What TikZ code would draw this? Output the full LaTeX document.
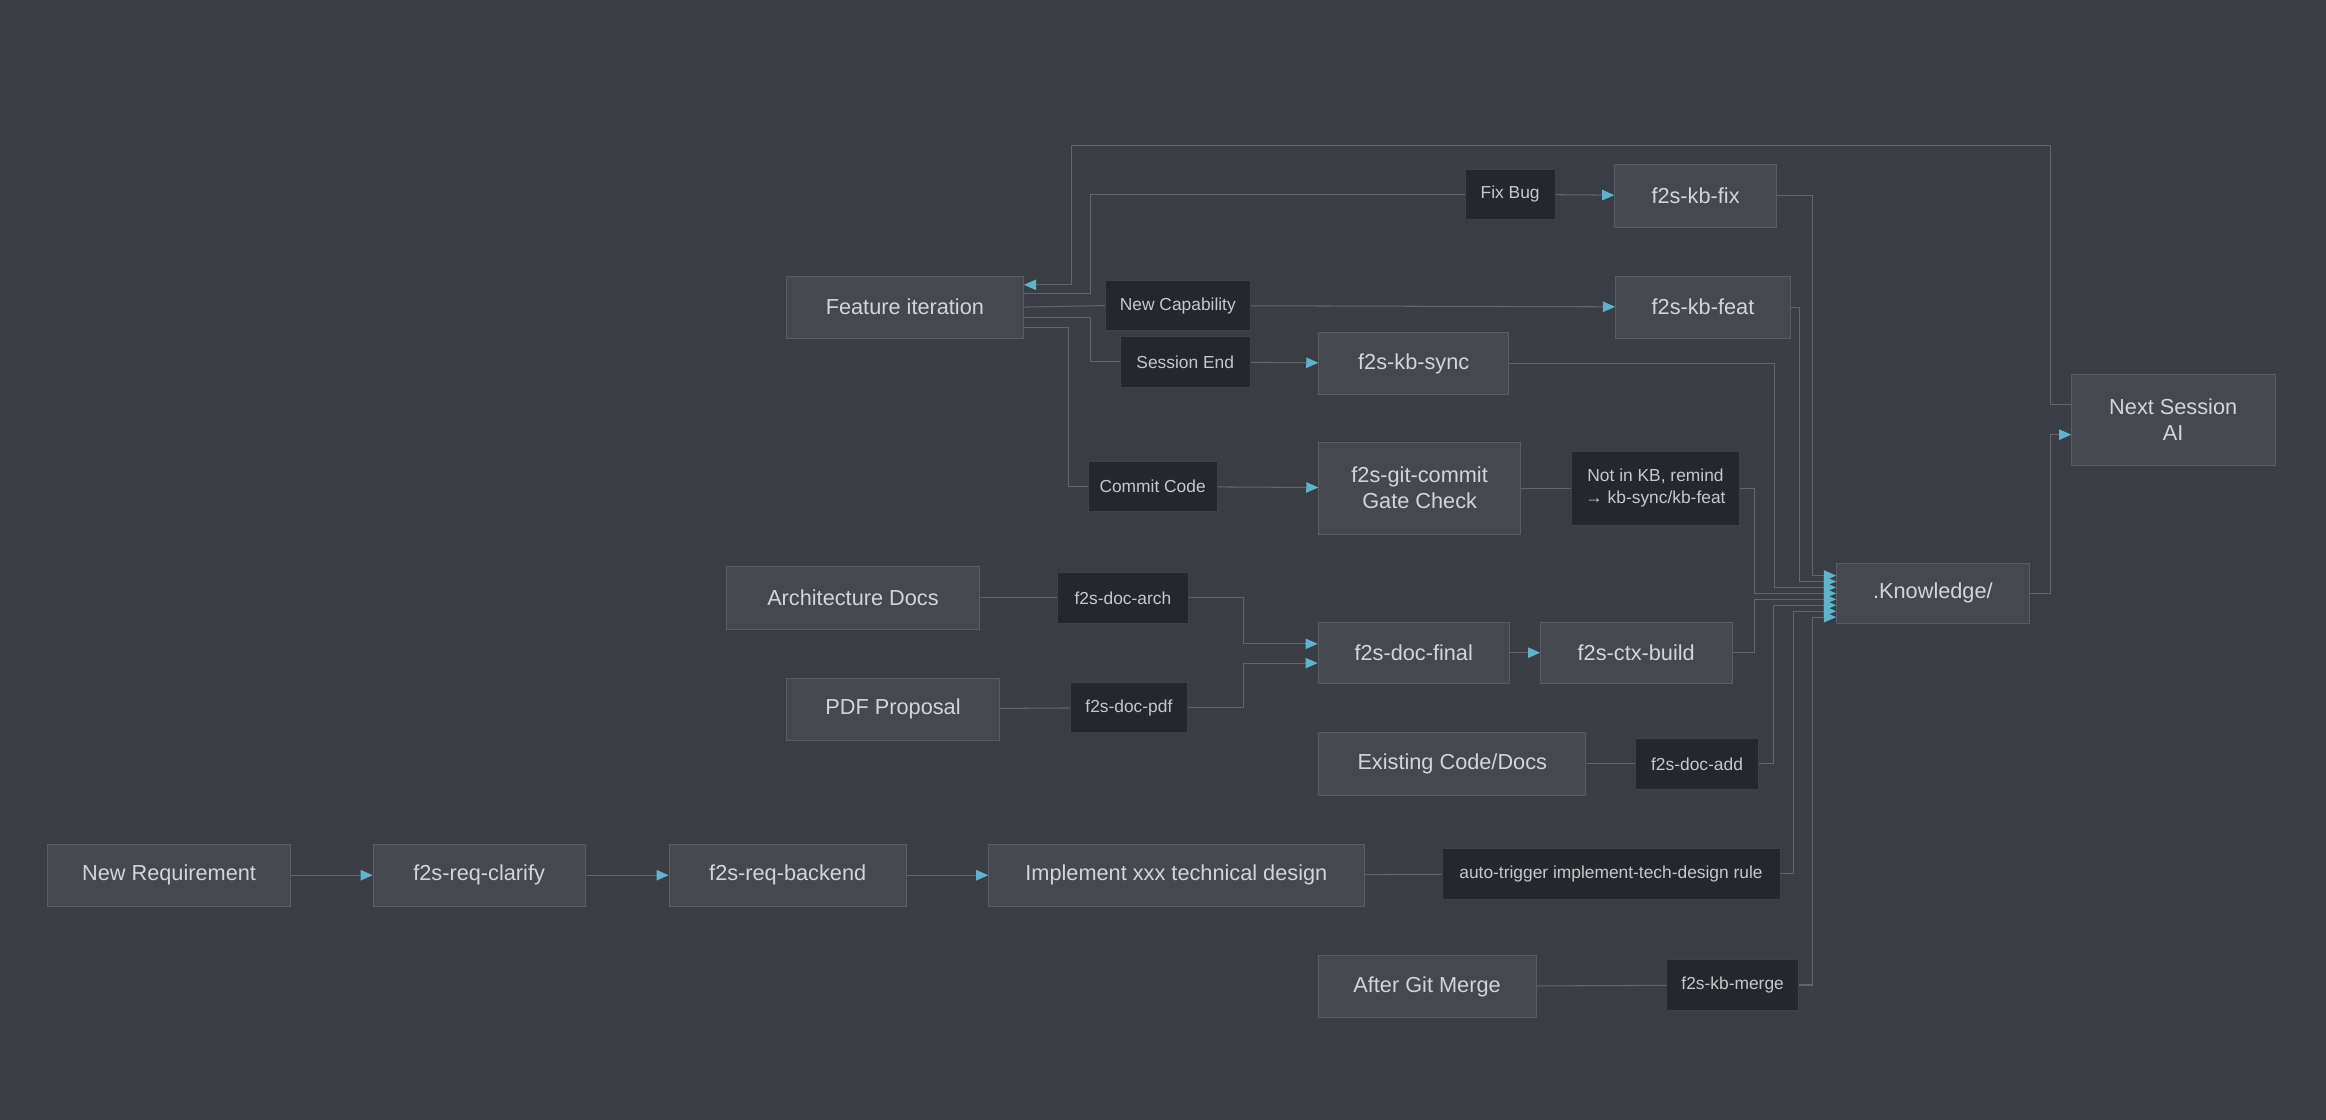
\documentclass[tikz,border=0pt]{standalone}
\usepackage{fontspec}
\setmainfont{Liberation Sans}
\usetikzlibrary{arrows.meta}
\definecolor{bg}{HTML}{3A3D44}
\definecolor{boxfill}{HTML}{45484F}
\definecolor{boxline}{HTML}{5A5D64}
\definecolor{tagfill}{HTML}{25272C}
\definecolor{txt}{HTML}{D4D5D8}
\definecolor{wire}{HTML}{62656B}
\definecolor{tip}{HTML}{5DB4CC}
\tikzset{
  stage/.style={draw=boxline, fill=boxfill, text=txt, align=center,
    font=\fontsize{12.5}{15}\selectfont, inner sep=0pt},
  tag/.style={draw=boxline!70!black, fill=tagfill, text=txt!85!gray, align=center,
    font=\fontsize{10}{13}\selectfont, inner sep=0pt, minimum height=1.02cm},
  line/.style={draw=wire, line width=0.6pt},
  flow/.style={line, -{Triangle[length=7pt, width=6pt, fill=tip, color=tip]}},
}
\begin{document}
\begin{tikzpicture}[x=0.03cm, y=-0.03cm]
\fill[bg] (0,0) rectangle (1568,755);
\useasboundingbox (0,0) rectangle (1568,755);
% boxes
\node[stage, minimum width=4.8cm, minimum height=1.26cm] (feat) at (610,207) {Feature iteration};
\node[tag, minimum width=1.83cm] (fixbug) at (1018,131) {Fix Bug};
\node[stage, minimum width=3.27cm, minimum height=1.26cm] (kbfix) at (1143,132) {f2s-kb-fix};
\node[tag, minimum width=2.94cm] (newcap) at (794,206) {New Capability};
\node[stage, minimum width=3.54cm, minimum height=1.26cm] (kbfeat) at (1148,207) {f2s-kb-feat};
\node[tag, minimum width=2.64cm] (sessend) at (799,244) {Session End};
\node[stage, minimum width=3.84cm, minimum height=1.26cm] (kbsync) at (953,245) {f2s-kb-sync};
\node[tag, minimum width=2.61cm] (commit) at (777,328) {Commit Code};
\node[stage, minimum width=4.08cm, minimum height=1.86cm] (gitcommit) at (957,329) {f2s-git-commit\\Gate Check};
\node[tag, minimum width=3.39cm, minimum height=1.5cm] (notkb) at (1116,329) {Not in KB, remind\\→ kb-sync/kb-feat};
\node[stage, minimum width=4.11cm, minimum height=1.83cm] (next) at (1465,283) {Next Session\\AI};
\node[stage, minimum width=3.9cm, minimum height=1.23cm] (know) at (1303,400) {.Knowledge/};
\node[stage, minimum width=5.13cm, minimum height=1.26cm] (arch) at (575,403) {Architecture Docs};
\node[tag, minimum width=2.64cm] (docarch) at (757,403) {f2s-doc-arch};
\node[stage, minimum width=3.87cm, minimum height=1.23cm] (docfinal) at (953,440) {f2s-doc-final};
\node[stage, minimum width=3.87cm, minimum height=1.23cm] (ctx) at (1103,440) {f2s-ctx-build};
\node[stage, minimum width=4.32cm, minimum height=1.26cm] (pdf) at (602,478) {PDF Proposal};
\node[tag, minimum width=2.37cm] (docpdf) at (761,477) {f2s-doc-pdf};
\node[stage, minimum width=5.4cm, minimum height=1.26cm] (exist) at (979,515) {Existing Code/Docs};
\node[tag, minimum width=2.49cm] (docadd) at (1144,515) {f2s-doc-add};
\node[stage, minimum width=4.92cm, minimum height=1.26cm] (newreq) at (114,590) {New Requirement};
\node[stage, minimum width=4.29cm, minimum height=1.26cm] (clarify) at (323,590) {f2s-req-clarify};
\node[stage, minimum width=4.8cm, minimum height=1.26cm] (backend) at (531,590) {f2s-req-backend};
\node[stage, minimum width=7.59cm, minimum height=1.26cm] (impl) at (793,590) {Implement xxx technical design};
\node[tag, minimum width=6.84cm] (auto) at (1086,589) {auto-trigger implement-tech-design rule};
\node[stage, minimum width=4.41cm, minimum height=1.26cm] (merge) at (962,665) {After Git Merge};
\node[tag, minimum width=2.67cm] (kbmerge) at (1168,664) {f2s-kb-merge};
% feature iteration branches
\draw[line] ([yshift=0.27cm]feat.east) -- ++(45,0) |- (fixbug.west);
\draw[flow] (fixbug) -- (kbfix);
\draw[line] (feat.east) -- (newcap.west);
\draw[flow] (newcap) -- (kbfeat);
\draw[line] ([yshift=-0.21cm]feat.east) -- ++(45,0) |- (sessend.west);
\draw[flow] (sessend) -- (kbsync);
\draw[line] ([yshift=-0.42cm]feat.east) -- ++(30,0) |- (commit.west);
\draw[flow] (commit) -- (gitcommit);
\draw[line] (gitcommit) -- (notkb);
% into the knowledge base
\draw[flow] (kbfix.east) -- ++(24,0) |- ([yshift=0.36cm]know.west);
\draw[flow] (kbfeat.east) -- ++(6,0) |- ([yshift=0.24cm]know.west);
\draw[flow] (kbsync.east) -- (1196,245) |- ([yshift=0.12cm]know.west);
\draw[flow] (notkb.east) -- ++(10,0) |- (know.west);
\draw[flow] (ctx.east) -- ++(15,0) |- ([yshift=-0.12cm]know.west);
\draw[flow] (docadd.east) -- ++(10,0) |- ([yshift=-0.24cm]know.west);
\draw[flow] (auto.east) -- ++(9,0) |- ([yshift=-0.36cm]know.west);
\draw[flow] (kbmerge.east) -- ++(9,0) |- ([yshift=-0.48cm]know.west);
% next session loop
\draw[flow] (know.east) -- ++(14,0) |- ([yshift=-0.3cm]next.west);
\draw[flow] ([yshift=0.3cm]next.west) -- ++(-14,0) |- (722,98) |- ([yshift=0.45cm]feat.east);
% docs
\draw[line] (arch) -- (docarch);
\draw[flow] (docarch.east) -- (838,403) |- ([yshift=0.18cm]docfinal.west);
\draw[line] (pdf) -- (docpdf);
\draw[flow] (docpdf.east) -- (838,477) |- ([yshift=-0.21cm]docfinal.west);
\draw[flow] (docfinal) -- (ctx);
\draw[line] (exist) -- (docadd);
% requirement chain
\draw[flow] (newreq) -- (clarify);
\draw[flow] (clarify) -- (backend);
\draw[flow] (backend) -- (impl);
\draw[line] (impl) -- (auto);
\draw[line] (merge) -- (kbmerge);
\end{tikzpicture}
\end{document}
